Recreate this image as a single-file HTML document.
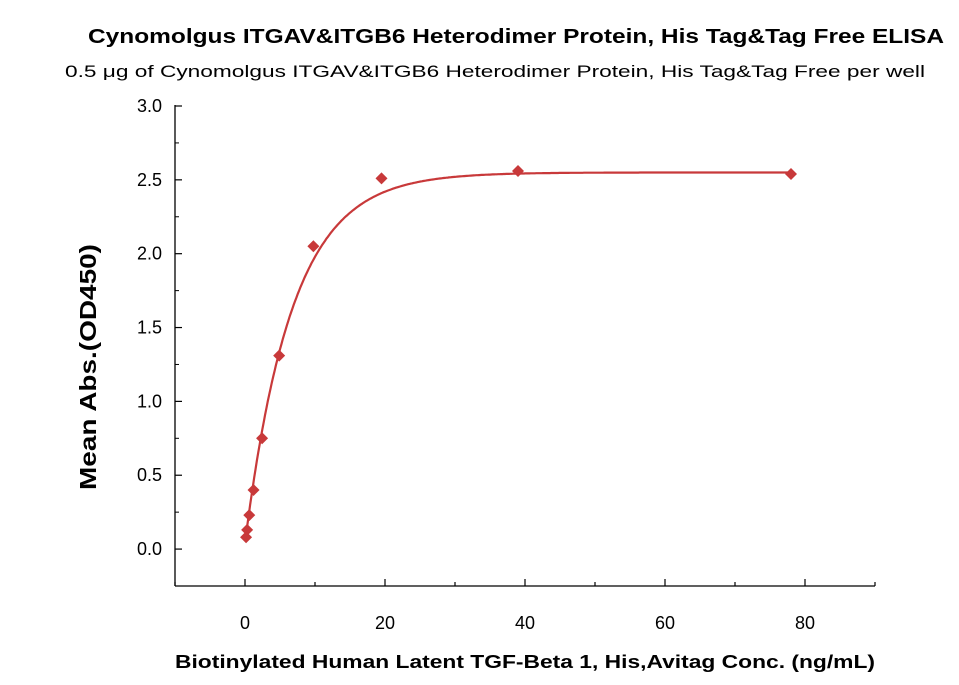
<!DOCTYPE html>
<html><head><meta charset="utf-8"><style>
body{margin:0;background:#fff;}
svg{display:block;font-family:"Liberation Sans",sans-serif;}
</style></head><body>
<svg id="chart" width="959" height="685">
<text x="516" y="43" text-anchor="middle" font-size="20" font-weight="bold" fill="#000" textLength="856" lengthAdjust="spacingAndGlyphs">Cynomolgus ITGAV&amp;ITGB6 Heterodimer Protein, His Tag&amp;Tag Free ELISA</text>
<text x="495" y="77" text-anchor="middle" font-size="17" fill="#000" textLength="860" lengthAdjust="spacingAndGlyphs">0.5 μg of Cynomolgus ITGAV&amp;ITGB6 Heterodimer Protein, His Tag&amp;Tag Free per well</text>
<text x="525" y="668" text-anchor="middle" font-size="18" font-weight="bold" textLength="700" lengthAdjust="spacingAndGlyphs">Biotinylated Human Latent TGF-Beta 1, His,Avitag Conc. (ng/mL)</text>
<text transform="translate(96,367) rotate(-90)" text-anchor="middle" font-size="23" font-weight="bold" textLength="246" lengthAdjust="spacingAndGlyphs">Mean Abs.(OD450)</text>
<g id="axes"></g>
<g id="marks"></g>
</svg>
<script>
const concentrations=[78,39,19.5,9.77,4.88,2.44,1.22,0.61,0.305,0.153];
const absorbance=[2.54,2.56,2.51,2.05,1.31,0.75,0.40,0.23,0.13,0.08];
const xTicks=[0,20,40,60,80];
const yTicks=[0.0,0.5,1.0,1.5,2.0,2.5,3.0];
const fitParams=[0.04,2.55,0.148]; // bottom, top, rate
const NS='http://www.w3.org/2000/svg';
const X0=175,X1=875,Y0=586,Y1=106,xmin=-10,xmax=90,ymin=-0.25,ymax=3.0;
const sx=v=>X0+(v-xmin)/(xmax-xmin)*(X1-X0);
const sy=v=>Y0-(v-ymin)/(ymax-ymin)*(Y0-Y1);
function mk(t,a,p){const e=document.createElementNS(NS,t);for(const k in a)e.setAttribute(k,a[k]);p.appendChild(e);return e;}
const ax=document.getElementById('axes'),mg=document.getElementById('marks');
let e=mk('line',{x1:X0,y1:Y1-1,x2:X0,y2:Y0,stroke:'#000','stroke-width':1.3},ax);

e=mk('line',{x1:X0,y1:Y0,x2:X1,y2:Y0,stroke:'#000','stroke-width':1.3},ax);

yTicks.forEach((v,i)=>{const y=sy(v);
 mk('line',{x1:X0,y1:y,x2:X0+7,y2:y,stroke:'#000','stroke-width':1.2},ax);
 if(i<yTicks.length-1) mk('line',{x1:X0,y1:sy(v+0.25),x2:X0+4,y2:sy(v+0.25),stroke:'#000','stroke-width':1},ax);
 const t=mk('text',{x:X0-13,y:y+6,'text-anchor':'end','font-size':18},ax);t.textContent=v.toFixed(1);
 });
for(let v=-10;v<=90;v+=10){const x=sx(v),major=xTicks.includes(v);
 mk('line',{x1:x,y1:Y0,x2:x,y2:Y0-(major?7:4),stroke:'#000','stroke-width':1.2},ax);}
xTicks.forEach(v=>{const t=mk('text',{x:sx(v),y:Y0+43,'text-anchor':'middle','font-size':18},ax);t.textContent=v;
 });
const [b,tp,k]=fitParams;let d='';
for(let i=0;i<=400;i++){const c=0.15+i*(78-0.15)/400;const y=b+(tp-b)*(1-Math.exp(-k*c));d+=(i?'L':'M')+sx(c).toFixed(1)+','+sy(y).toFixed(1);}
e=mk('path',{d:d,fill:'none',stroke:'#c8393a','stroke-width':2.2},mg);

concentrations.forEach((c,i)=>{const x=sx(c),y=sy(absorbance[i]),r=6;
 const p=mk('polygon',{points:`${x},${y-r} ${x+r},${y} ${x},${y+r} ${x-r},${y}`,fill:'#c8393a'},mg);
 });
</script>
</body></html>
